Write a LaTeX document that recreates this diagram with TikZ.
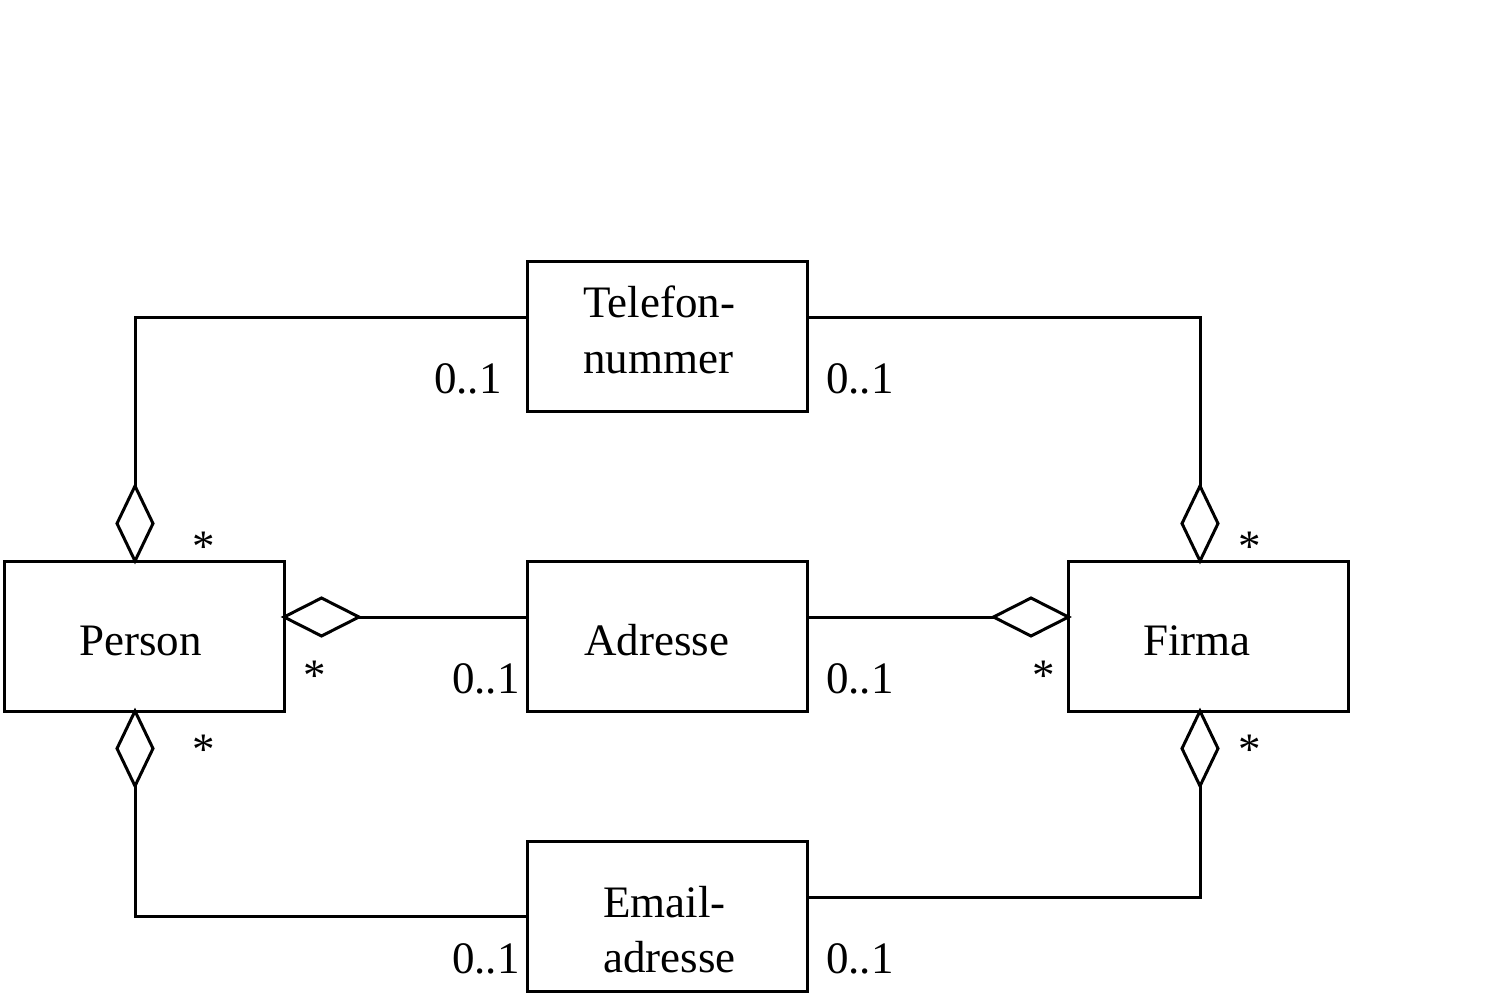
\documentclass[tikz,border=0pt]{standalone}
\usepackage{fontspec}
\setmainfont{Liberation Serif}
\begin{document}
\begin{tikzpicture}[x=1pt,y=-1pt,
  every node/.style={font=\fontsize{45}{55}\selectfont},
  cls/.style={draw,line width=3pt,minimum width=280pt,minimum height=150pt,inner sep=0pt,outer sep=0pt},
  conn/.style={line width=3pt},
  txt/.style={inner sep=0pt,align=left},
  lbl/.style={anchor=base west,inner sep=0pt},
  dup/.pic={\draw[conn,fill=white,line join=miter] (0,0) -- (18,-37.5) -- (0,-75) -- (-18,-37.5) -- cycle; \coordinate (-e) at (0,-75);},
  ddown/.pic={\draw[conn,fill=white,line join=miter] (0,0) -- (18,37.5) -- (0,75) -- (-18,37.5) -- cycle; \coordinate (-e) at (0,75);},
  dright/.pic={\draw[conn,fill=white,line join=miter] (0,0) -- (37.5,-19) -- (75,0) -- (37.5,19) -- cycle; \coordinate (-e) at (75,0);},
  dleft/.pic={\draw[conn,fill=white,line join=miter] (0,0) -- (-37.5,-19) -- (-75,0) -- (-37.5,19) -- cycle; \coordinate (-e) at (-75,0);}]
\useasboundingbox (0,0) rectangle (1495,998);
% classes
\node[cls] (tel) at (667,336) {};
\node[cls] (per) at (144,636) {};
\node[cls] (adr) at (667,636) {};
\node[cls] (fir) at (1208.5,636) {};
\node[cls] (ema) at (667,916) {};
\node[txt,anchor=west,font=\fontsize{45}{56}\selectfont] (tel-t) at (583,329.7) {Telefon-\\nummer};
\node[txt,anchor=west,font=\fontsize{45}{55}\selectfont] (ema-t) at (603,929.7) {Email-\\adresse};
\node[lbl] (per-t) at (79,655) {Person};
\node[lbl] (adr-t) at (584,655) {Adresse};
\node[lbl] (fir-t) at (1143,655) {Firma};
% connectors
\coordinate (c1) at (135,317);
\coordinate (c2) at (1200,317);
\coordinate (c3) at (135,916);
\coordinate (c4) at (1200,897);
\coordinate (c5) at (0,617);
\pic (d1) at (per.north -| c1) {dup};
\pic (d2) at (fir.north -| c2) {dup};
\pic (d3) at (per.east |- c5) {dright};
\pic (d4) at (fir.west |- c5) {dleft};
\pic (d5) at (per.south -| c3) {ddown};
\pic (d6) at (fir.south -| c4) {ddown};
\draw[conn] (d1-e) -- (c1) -- (tel.west |- c1);
\draw[conn] (d2-e) -- (c2) -- (tel.east |- c2);
\draw[conn] (d3-e) -- (adr.west |- c5);
\draw[conn] (d4-e) -- (adr.east |- c5);
\draw[conn] (d5-e) -- (c3) -- (ema.west |- c3);
\draw[conn] (d6-e) -- (c4) -- (ema.east |- c4);
% multiplicities
\node[lbl] (m1) at (434,393) {0..1};
\node[lbl] (m2) at (826,393) {0..1};
\node[lbl] (m3) at (452,693) {0..1};
\node[lbl] (m4) at (826,693) {0..1};
\node[lbl] (m5) at (452,973) {0..1};
\node[lbl] (m6) at (826,973) {0..1};
\node[lbl] (s1) at (192,561) {*};
\node[lbl] (s2) at (1238,561) {*};
\node[lbl] (s3) at (303,690) {*};
\node[lbl] (s4) at (1032,690) {*};
\node[lbl] (s5) at (192,764) {*};
\node[lbl] (s6) at (1238,764) {*};
\end{tikzpicture}
\end{document}
